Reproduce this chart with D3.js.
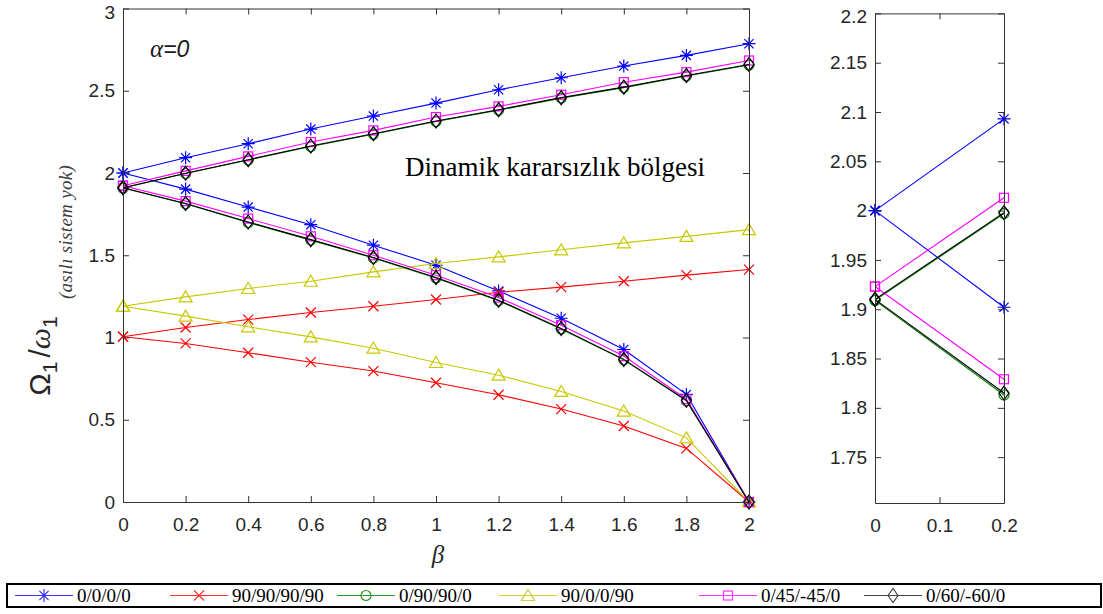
<!DOCTYPE html>
<html>
<head>
<meta charset="utf-8">
<script src="https://cdn.jsdelivr.net/npm/d3@7"></script>
<style>
  body { margin: 0; background: #fff; }
  svg { display: block; }
</style>
</head>
<body>
<svg id="chart" width="1103" height="614"></svg>
<script>
// β values where the frequencies were computed
const beta = [0, 0.2, 0.4, 0.6, 0.8, 1.0, 1.2, 1.4, 1.6, 1.8, 2.0];

// Upper and lower frequency branches Ω1/ω1 for each lay-up
const layup0000Upper = [2.000, 2.093, 2.178, 2.267, 2.346, 2.425, 2.506, 2.579, 2.650, 2.715, 2.786];
const layup0000Lower = [2.000, 1.902, 1.793, 1.686, 1.561, 1.439, 1.283, 1.117, 0.927, 0.654, 0];

const layup90909090Upper = [1.005, 1.061, 1.109, 1.152, 1.190, 1.231, 1.275, 1.306, 1.342, 1.379, 1.413];
const layup90909090Lower = [1.005, 0.964, 0.907, 0.850, 0.796, 0.725, 0.652, 0.565, 0.462, 0.326, 0];

const layup090900Upper = [1.909, 1.997, 2.079, 2.161, 2.236, 2.313, 2.382, 2.455, 2.519, 2.590, 2.657];
const layup090900Lower = [1.909, 1.813, 1.699, 1.592, 1.483, 1.362, 1.224, 1.052, 0.864, 0.615, 0];

const layup900090Upper = [1.190, 1.247, 1.298, 1.342, 1.399, 1.450, 1.490, 1.533, 1.575, 1.615, 1.656];
const layup900090Lower = [1.190, 1.130, 1.065, 1.004, 0.935, 0.848, 0.771, 0.672, 0.553, 0.390, 0];

const layup045m450Upper = [1.923, 2.013, 2.101, 2.188, 2.259, 2.340, 2.405, 2.476, 2.552, 2.613, 2.684];
const layup045m450Lower = [1.923, 1.829, 1.723, 1.615, 1.500, 1.379, 1.243, 1.075, 0.887, 0.625, 0];

const layup060m600Upper = [1.910, 1.998, 2.081, 2.164, 2.239, 2.316, 2.385, 2.458, 2.522, 2.593, 2.660];
const layup060m600Lower = [1.910, 1.815, 1.702, 1.595, 1.486, 1.365, 1.227, 1.055, 0.867, 0.618, 0];

const seriesNames = ["0/0/0/0", "90/90/90/90", "0/90/90/0", "90/0/0/90", "0/45/-45/0", "0/60/-60/0"];
const seriesColors = ["#0000ff", "#ff0000", "#008000", "#c8c800", "#ff00ff", "#000000"];
const legendLineColors = ["#3333ff", "#ff3333", "#2a962a", "#cccc33", "#ff33ff", "#444444"];
const seriesMarkers = ["star", "x", "circle", "triangle", "square", "diamond"];
const seriesUpper = [layup0000Upper, layup90909090Upper, layup090900Upper, layup900090Upper, layup045m450Upper, layup060m600Upper];
const seriesLower = [layup0000Lower, layup90909090Lower, layup090900Lower, layup900090Lower, layup045m450Lower, layup060m600Lower];

// Tick labels
const mainXTicks = [0, 0.2, 0.4, 0.6, 0.8, 1, 1.2, 1.4, 1.6, 1.8, 2];
const mainYTicks = [0, 0.5, 1, 1.5, 2, 2.5, 3];
const zoomXTicks = [0, 0.1, 0.2];
const zoomYTicks = [1.75, 1.8, 1.85, 1.9, 1.95, 2, 2.05, 2.1, 2.15, 2.2];

const svg = d3.select("#chart");
const AXIS_COLOR = "#333333";
const TICK_FONT = "'Liberation Sans', Arial, sans-serif";
const SERIF = "'Liberation Serif', 'Times New Roman', serif";
const fmt = d => String(+d.toFixed(2));

// ---- marker glyphs ----
function drawMarker(g, type, x, y, color) {
  const m = g.append("g")
    .attr("transform", `translate(${x},${y})`)
    .attr("fill", "none")
    .attr("stroke", color)
    .attr("stroke-width", 1.2);
  switch (type) {
    case "star":
      m.append("path").attr("d", "M-6.5,0H6.5M0,-6.5V6.5M-4.6,-4.6L4.6,4.6M-4.6,4.6L4.6,-4.6");
      break;
    case "x":
      m.append("path").attr("d", "M-5,-5L5,5M-5,5L5,-5");
      break;
    case "circle":
      m.append("circle").attr("r", 5);
      break;
    case "triangle":
      m.append("path").attr("d", "M0,-6L6.5,5L-6.5,5Z");
      break;
    case "square":
      m.append("rect").attr("x", -4.5).attr("y", -4.5).attr("width", 9).attr("height", 9);
      break;
    case "diamond":
      m.append("path").attr("d", "M0,-7L5,0L0,7L-5,0Z");
      break;
  }
}

// ---- axes box with inward ticks on all four sides ----
function drawBox(x, y, xTicks, yTicks) {
  const [x0, x1] = x.range();
  const [y0, y1] = y.range();
  const styleAxis = g => {
    g.selectAll("path.domain").attr("stroke", AXIS_COLOR);
    g.selectAll(".tick line").attr("stroke", AXIS_COLOR);
    g.selectAll(".tick text").attr("fill", "#262626")
      .attr("font-family", TICK_FONT).attr("font-size", 19);
  };
  svg.append("g").attr("transform", `translate(0,${y0})`)
    .call(d3.axisBottom(x).tickValues(xTicks).tickFormat(fmt).tickSizeInner(-6).tickSizeOuter(0).tickPadding(16))
    .call(styleAxis);
  svg.append("g").attr("transform", `translate(0,${y1})`)
    .call(d3.axisTop(x).tickValues(xTicks).tickFormat("").tickSizeInner(-6).tickSizeOuter(0))
    .call(styleAxis);
  const left = svg.append("g").attr("transform", `translate(${x0},0)`)
    .call(d3.axisLeft(y).tickValues(yTicks).tickFormat(fmt).tickSizeInner(-6).tickSizeOuter(0).tickPadding(8))
    .call(styleAxis);
  // keep the topmost label inside the frame
  left.selectAll(".tick text").filter(d => d === yTicks[yTicks.length - 1]).attr("dy", "0.5em");
  svg.append("g").attr("transform", `translate(${x1},0)`)
    .call(d3.axisRight(y).tickValues(yTicks).tickFormat("").tickSizeInner(-6).tickSizeOuter(0))
    .call(styleAxis);
}

// ---- series drawing ----
function drawSeries(x, y, clipId) {
  const line = d3.line().x((d, i) => x(beta[i])).y(d => y(d));
  const [xa, xb] = x.domain();
  const [ya, yb] = y.domain();
  const inside = (b, v) => b >= xa - 1e-9 && b <= xb + 1e-9 && v >= ya - 1e-9 && v <= yb + 1e-9;
  seriesNames.forEach((name, s) => {
    const g = svg.append("g");
    const lines = g.append("g");
    if (clipId) lines.attr("clip-path", `url(#${clipId})`);
    [seriesUpper[s], seriesLower[s]].forEach(branch => {
      lines.append("path")
        .attr("d", line(branch))
        .attr("fill", "none")
        .attr("stroke", seriesColors[s])
        .attr("stroke-width", 1.1);
    });
    [seriesUpper[s], seriesLower[s]].forEach(branch => {
      branch.forEach((v, i) => {
        if (inside(beta[i], v)) drawMarker(g, seriesMarkers[s], x(beta[i]), y(v), seriesColors[s]);
      });
    });
  });
}

// ===== main panel =====
const xMain = d3.scaleLinear().domain([0, 2]).range([123, 749]);
const yMain = d3.scaleLinear().domain([0, 3]).range([502, 8.5]);
drawSeries(xMain, yMain, null);
drawBox(xMain, yMain, mainXTicks, mainYTicks);

// ===== zoomed panel near β = 0 =====
const xZoom = d3.scaleLinear().domain([0, 0.2]).range([875, 1004]);
const yZoom = d3.scaleLinear().domain([1.7035, 2.2]).range([503, 13.4]);
svg.append("defs").append("clipPath").attr("id", "zoomClip")
  .append("rect")
  .attr("x", xZoom.range()[0]).attr("y", yZoom.range()[1])
  .attr("width", xZoom.range()[1] - xZoom.range()[0])
  .attr("height", yZoom.range()[0] - yZoom.range()[1]);
drawSeries(xZoom, yZoom, "zoomClip");
drawBox(xZoom, yZoom, zoomXTicks, zoomYTicks);

// ===== annotations =====
const alpha = svg.append("text").attr("x", 150).attr("y", 57)
  .attr("font-size", 23).attr("fill", "#1a1a1a").attr("font-style", "italic");
alpha.append("tspan").attr("font-family", SERIF).attr("font-size", 25).text("α");
alpha.append("tspan").attr("font-family", TICK_FONT).text("=0");

svg.append("text").attr("x", 405).attr("y", 176)
  .attr("font-family", SERIF).attr("font-size", 27).attr("fill", "#000")
  .text("Dinamik kararsızlık bölgesi");

// x-axis label
svg.append("text").attr("x", 438).attr("y", 563)
  .attr("text-anchor", "middle")
  .attr("font-family", SERIF).attr("font-style", "italic").attr("font-size", 25)
  .attr("fill", "#262626").text("β");

// y-axis label
const yl = svg.append("text")
  .attr("transform", "translate(50,356) rotate(-90)")
  .attr("text-anchor", "middle")
  .attr("font-family", TICK_FONT).attr("font-size", 30).attr("fill", "#262626");
yl.append("tspan").text("Ω");
yl.append("tspan").attr("font-size", 21).attr("dy", 7).text("1");
yl.append("tspan").attr("dy", -7).attr("dx", 4).text("/");
yl.append("tspan").attr("font-family", SERIF).attr("font-style", "italic").text("ω");
yl.append("tspan").attr("font-size", 21).attr("dy", 7).text("1");

svg.append("text")
  .attr("transform", "translate(72,232) rotate(-90)")
  .attr("text-anchor", "middle")
  .attr("font-family", SERIF).attr("font-style", "italic").attr("font-size", 19)
  .attr("letter-spacing", 0.3)
  .attr("fill", "#404040").text("(asılı sistem yok)");

// ===== legend =====
const legend = svg.append("g");
legend.append("rect").attr("x", 7).attr("y", 584).attr("width", 1094).attr("height", 23)
  .attr("fill", "#fff").attr("stroke", "#000").attr("stroke-width", 2);
const legendStarts = [15, 170, 337, 499, 699, 864];
seriesNames.forEach((name, s) => {
  const x0 = legendStarts[s];
  legend.append("line").attr("x1", x0).attr("x2", x0 + 58).attr("y1", 595.5).attr("y2", 595.5)
    .attr("stroke", legendLineColors[s]).attr("stroke-width", 1.1);
  drawMarker(legend, seriesMarkers[s], x0 + 29, 595.5, legendLineColors[s]);
  legend.append("text").attr("x", x0 + 62).attr("y", 602)
    .attr("font-family", SERIF).attr("font-size", 19).attr("fill", "#000").text(name);
});
</script>
</body>
</html>
